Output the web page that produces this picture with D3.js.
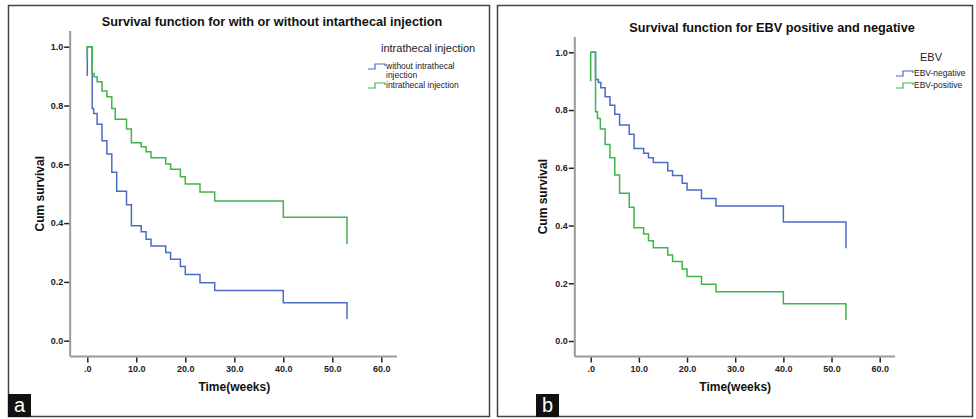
<!DOCTYPE html>
<html>
<head>
<meta charset="utf-8">
<script src="https://cdn.jsdelivr.net/npm/d3@7"></script>
<style>
  body { margin: 0; background: #fff; }
  svg { display: block; font-family: "Liberation Sans", Arial, sans-serif; }
</style>
</head>
<body>
<script>
// ---- data ----
const xTicks = [0, 10, 20, 30, 40, 50, 60];
const yTicks = [0, 0.2, 0.4, 0.6, 0.8, 1.0];

// panel a
const titleA = "Survival function for with or without intarthecal injection";
const legendTitleA = "intrathecal injection";
const timesWithout = [0, 0, 1, 1.3, 2, 3, 4, 5, 6, 8, 9, 11, 12, 13, 16, 17, 19, 20, 23, 26, 40, 53];
const survWithout = [0.90, 1, 0.79, 0.773, 0.736, 0.68, 0.635, 0.573, 0.508, 0.462, 0.391, 0.371, 0.345, 0.322, 0.30, 0.277, 0.252, 0.225, 0.197, 0.171, 0.129, 0.074];
const timesWith = [0, 0, 1, 1.4, 2, 3, 4, 5, 5.7, 8, 9, 11, 12, 13, 16, 17, 19, 20, 23, 26, 40, 53];
const survWith = [0.96, 1, 0.909, 0.898, 0.881, 0.849, 0.83, 0.79, 0.753, 0.72, 0.673, 0.66, 0.643, 0.622, 0.601, 0.583, 0.558, 0.533, 0.506, 0.475, 0.42, 0.329];

// panel b
const titleB = "Survival function for EBV positive and negative";
const legendTitleB = "EBV";
const timesNeg = [0, 1, 1.6, 2.1, 3, 4, 5, 6, 8, 9, 11, 12, 13, 16, 17, 19, 20, 23, 26, 40, 53];
const survNeg = [1, 0.906, 0.895, 0.877, 0.846, 0.817, 0.785, 0.748, 0.716, 0.667, 0.65, 0.635, 0.618, 0.59, 0.573, 0.546, 0.523, 0.494, 0.468, 0.412, 0.321];
const timesPos = [0, 0, 1, 1.4, 2, 3, 4, 5, 6, 8, 9, 11, 12, 13, 16, 17, 19, 20, 23, 26, 40, 53];
const survPos = [0.90, 1, 0.794, 0.771, 0.734, 0.681, 0.635, 0.575, 0.512, 0.463, 0.392, 0.371, 0.347, 0.323, 0.298, 0.275, 0.249, 0.223, 0.197, 0.171, 0.129, 0.073];

const blue = "#4a6cc4";
const green = "#3fb54b";

const svg = d3.select("body").append("svg")
  .attr("width", 976)
  .attr("height", 419);

// panel frames
svg.append("rect").attr("x", 8.5).attr("y", 5.5).attr("width", 481).attr("height", 411)
  .attr("fill", "none").attr("stroke", "#444").attr("stroke-width", 1.5);
svg.append("rect").attr("x", 497.5).attr("y", 5.5).attr("width", 475).attr("height", 411)
  .attr("fill", "none").attr("stroke", "#444").attr("stroke-width", 1.5);

function zip(ts, ss) { return ts.map((t, i) => [t, ss[i]]); }

function panel(cfg) {
  const x = d3.scaleLinear().domain([0, 60]).range(cfg.xr);
  const y = d3.scaleLinear().domain([0, 1]).range(cfg.yr);
  const g = svg.append("g");

  // axis lines (grey)
  g.append("line")
    .attr("x1", x(cfg.xmin)).attr("x2", x(cfg.xmin))
    .attr("y1", y(cfg.ymax)).attr("y2", y(cfg.ymin))
    .attr("stroke", "#9a9a9a").attr("stroke-width", 2);
  g.append("line")
    .attr("x1", x(cfg.xmin)).attr("x2", x(cfg.xmax))
    .attr("y1", y(cfg.ymin)).attr("y2", y(cfg.ymin))
    .attr("stroke", "#9a9a9a").attr("stroke-width", 2);

  const yAxis = g.append("g")
    .attr("transform", `translate(${x(cfg.xmin) - 1},0)`)
    .call(d3.axisLeft(y).tickValues(yTicks).tickSize(5).tickPadding(1).tickFormat(d3.format(".1f")));
  const xAxis = g.append("g")
    .attr("transform", `translate(0,${y(cfg.ymin) + 1})`)
    .call(d3.axisBottom(x).tickValues(xTicks).tickSize(5).tickPadding(3)
      .tickFormat(d => d === 0 ? ".0" : d3.format(".1f")(d)));
  [xAxis, yAxis].forEach(a => {
    a.select(".domain").remove();
    a.selectAll(".tick line").attr("stroke", "#222").attr("stroke-width", 1.5);
    a.selectAll(".tick text").attr("fill", "#222").style("font-size", "9px")
      .style("font-weight", "bold").style("font-family", "'Liberation Sans', Arial, sans-serif");
  });

  const line = d3.line()
    .x(d => x(d[0]))
    .y(d => y(d[1]))
    .curve(d3.curveStepAfter);

  cfg.series.forEach(s => {
    g.append("path")
      .datum(zip(s.times, s.surv))
      .attr("fill", "none")
      .attr("stroke", s.color)
      .attr("stroke-width", 1.5)
      .attr("d", line);
  });

  // titles
  g.append("text").attr("x", cfg.titleX).attr("y", cfg.titleY)
    .attr("text-anchor", "middle").attr("font-size", 12.7).attr("font-weight", "bold")
    .attr("fill", "#111").text(cfg.title);
  g.append("text").attr("x", x(30)).attr("y", 391)
    .attr("text-anchor", "middle").attr("font-size", 12).attr("font-weight", "bold")
    .attr("fill", "#111").text("Time(weeks)");
  g.append("text")
    .attr("transform", `translate(${cfg.ylabX},${y(0.5)}) rotate(-90)`)
    .attr("text-anchor", "middle").attr("font-size", 12).attr("font-weight", "bold")
    .attr("fill", "#111").text("Cum survival");

  // legend
  const lg = g.append("g").attr("transform", `translate(${cfg.legX},0)`);
  lg.append("text").attr("x", cfg.legTitleX).attr("y", cfg.legTitleY)
    .attr("font-size", 11).attr("fill", "#222").text(cfg.legendTitle);
  cfg.legend.forEach(e => {
    lg.append("path")
      .attr("d", `M0,${e.y + 3}H7V${e.y - 2}H17V${e.y}`)
      .attr("fill", "none").attr("stroke", e.color).attr("stroke-width", 1.2);
    e.lines.forEach((t, i) => {
      lg.append("text").attr("x", 18).attr("y", e.y + 3 + i * 9)
        .attr("font-size", 8.5).attr("fill", "#222").text(t);
    });
  });
}

panel({
  xr: [87.3, 381.3], yr: [340.7, 46.7],
  xmin: -3.5, xmax: 63.2, ymin: -0.054, ymax: 1.053,
  title: titleA, titleX: 272, titleY: 26,
  ylabX: 44,
  legendTitle: legendTitleA, legX: 368, legTitleX: 13, legTitleY: 52,
  legend: [
    { color: blue, y: 66, lines: ["without intrathecal", "injection"] },
    { color: green, y: 85, lines: ["intrathecal injection"] }
  ],
  series: [
    { times: timesWithout, surv: survWithout, color: blue },
    { times: timesWith, surv: survWith, color: green }
  ]
});

panel({
  xr: [590.7, 879.7], yr: [341, 52.3],
  xmin: -3.3, xmax: 63.2, ymin: -0.054, ymax: 1.053,
  title: titleB, titleX: 772, titleY: 32,
  ylabX: 547,
  legendTitle: legendTitleB, legX: 896, legTitleX: 24, legTitleY: 61,
  legend: [
    { color: blue, y: 73, lines: ["EBV-negative"] },
    { color: green, y: 85, lines: ["EBV-positive"] }
  ],
  series: [
    { times: timesNeg, surv: survNeg, color: blue },
    { times: timesPos, surv: survPos, color: green }
  ]
});

// panel letters
[["a", 8, 394], ["b", 536, 394]].forEach(([t, bx, by]) => {
  svg.append("rect").attr("x", bx).attr("y", by).attr("width", 23).attr("height", 23).attr("fill", "#111");
  svg.append("text").attr("x", bx + 11.5).attr("y", by + 18).attr("text-anchor", "middle")
    .attr("font-size", 20).attr("fill", "#fff").text(t);
});
</script>
</body>
</html>
